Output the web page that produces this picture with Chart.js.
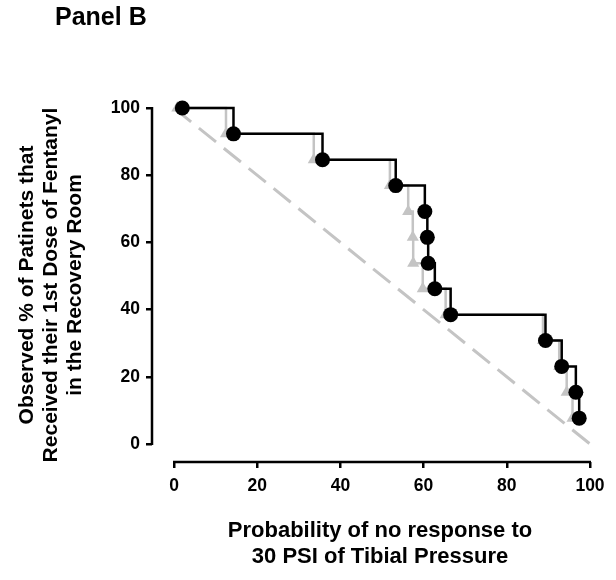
<!DOCTYPE html>
<html>
<head>
<meta charset="utf-8">
<script src="https://cdn.jsdelivr.net/npm/chart.js@4.4.0/dist/chart.umd.min.js"></script>
<style>
  body { margin: 0; background: #fff; }
</style>
</head>
<body>
<canvas id="chart" width="616" height="580"></canvas>
<script>
// observed curve (black circles)
const obsX = [2.0, 14.3, 35.7, 53.3, 60.3, 60.9, 61.1, 62.7, 66.5, 89.3, 93.2, 96.6, 97.4];
const obsY = [100, 92.3, 84.6, 76.9, 69.2, 61.5, 53.8, 46.2, 38.5, 30.8, 23.1, 15.4, 7.7];
// grey curve (triangles), sits just left of the black one
const refX = [0.8, 12.5, 33.6, 51.9, 56.3, 57.4, 57.5, 59.8, 65.3, 88.7, 92.6, 94.4, 95.8];
const refY = [100, 92.3, 84.6, 76.9, 69.2, 61.5, 53.8, 46.2, 38.5, 30.8, 23.1, 15.4, 7.7];
// line of identity
const diagX = [0, 100];
const diagY = [100, 0];
const tickVals = [0, 20, 40, 60, 80, 100];

const FONT = '"Liberation Sans", Arial, sans-serif';
const grey = '#c4c4c4';

const toPts = (xs, ys) => xs.map((x, i) => ({ x: x, y: ys[i] }));
const setTicks = s => { s.ticks = tickVals.map(v => ({ value: v })); };

// axis lines only span 0..100 (offset axes), plus the panel label
const axisLines = {
    id: 'axisLines',
    beforeDatasetsDraw(chart) {
        const ctx = chart.ctx;
        const xs = chart.scales.x, ys = chart.scales.y;
        const area = chart.chartArea;
        ctx.save();
        ctx.strokeStyle = '#000';
        ctx.lineWidth = 2.5;
        ctx.beginPath();
        ctx.moveTo(area.left, ys.getPixelForValue(100) - 1);
        ctx.lineTo(area.left, ys.getPixelForValue(0) + 1);
        ctx.moveTo(xs.getPixelForValue(0) - 1, area.bottom);
        ctx.lineTo(xs.getPixelForValue(100) + 1, area.bottom);
        ctx.stroke();
        ctx.fillStyle = '#000';
        ctx.font = 'bold 25px ' + FONT;
        ctx.textBaseline = 'middle';
        ctx.fillText('Panel B', 55, 18);
        ctx.restore();
    }
};

new Chart(document.getElementById('chart').getContext('2d'), {
    type: 'line',
    data: {
        datasets: [
            {
                data: toPts(obsX, obsY),
                stepped: 'before',
                borderColor: '#000',
                borderWidth: 2.5,
                pointStyle: 'circle',
                pointRadius: 7.5,
                pointBackgroundColor: '#000',
                pointBorderWidth: 0,
                clip: false,
                order: 1
            },
            {
                data: toPts(refX, refY),
                stepped: 'before',
                borderColor: grey,
                borderWidth: 2.5,
                pointStyle: 'triangle',
                pointRadius: 7,
                pointBackgroundColor: grey,
                pointBorderWidth: 0,
                clip: false,
                order: 2
            },
            {
                data: toPts(diagX, diagY),
                borderColor: grey,
                borderWidth: 3,
                borderDash: [22, 10],
                pointRadius: 0,
                clip: false,
                order: 3
            }
        ]
    },
    options: {
        responsive: false,
        animation: false,
        layout: { padding: { top: 108, right: 8, left: 0, bottom: 0 } },
        plugins: {
            legend: { display: false },
            tooltip: { enabled: false }
        },
        scales: {
            x: {
                type: 'linear',
                min: -5.288,
                max: 104.327,
                afterBuildTicks: setTicks,
                afterFit: s => { s.height = 118; },
                border: { display: false },
                grid: { drawOnChartArea: false, drawTicks: true, tickLength: 6, color: '#000', lineWidth: 2.5 },
                ticks: { color: '#000', padding: 8, maxRotation: 0, font: { family: FONT, size: 17.5, weight: 'bold' } },
                title: {
                    display: true,
                    text: ['Probability of no response to', '30 PSI of Tibial Pressure'],
                    color: '#000',
                    padding: { top: 0, bottom: 10 },
                    font: { family: FONT, size: 22, weight: 'bold', lineHeight: 26 / 22 }
                }
            },
            y: {
                type: 'linear',
                min: -5.357,
                max: 100,
                afterBuildTicks: setTicks,
                afterFit: s => { s.width = 152; },
                border: { display: false },
                grid: { drawOnChartArea: false, drawTicks: true, tickLength: 6, color: '#000', lineWidth: 2.5 },
                ticks: { color: '#000', padding: 6, font: { family: FONT, size: 17.5, weight: 'bold' } },
                title: {
                    display: true,
                    text: ['Observed % of Patinets that', 'Received their 1st Dose of Fentanyl', 'in the Recovery Room'],
                    color: '#000',
                    padding: { top: 15, bottom: 0 },
                    font: { family: FONT, size: 21, weight: 'bold', lineHeight: 24 / 21 }
                }
            }
        }
    },
    plugins: [axisLines]
});
</script>
</body>
</html>
